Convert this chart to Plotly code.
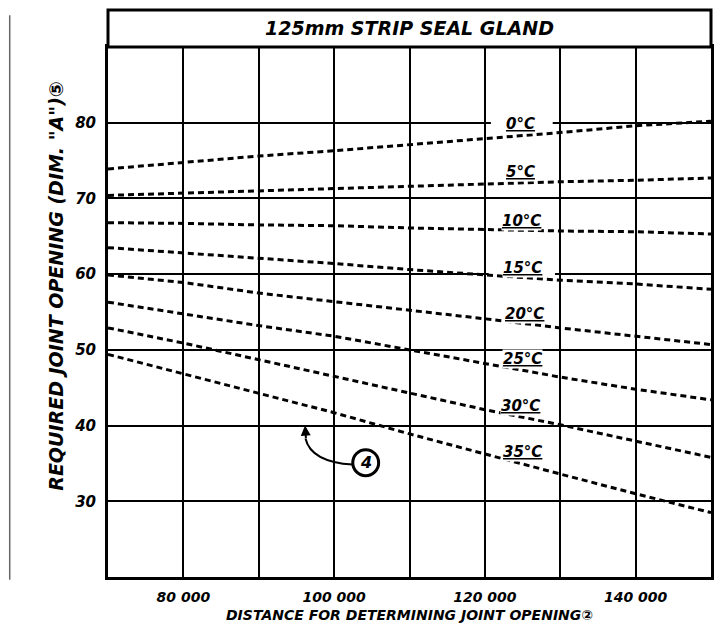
import plotly.graph_objects as go

# ---- data ----
x_dist = [70000, 80000, 90000, 100000, 110000, 120000, 130000, 140000, 150000]
temps = ["0°C", "5°C", "10°C", "15°C", "20°C", "25°C", "30°C", "35°C"]
t0 = [73.9, 74.8, 75.6, 76.3, 77.1, 77.9, 78.7, 79.6, 80.2]
t5 = [70.4, 70.7, 71.0, 71.3, 71.6, 71.9, 72.2, 72.4, 72.7]
t10 = [66.8, 66.7, 66.5, 66.4, 66.1, 65.9, 65.7, 65.6, 65.3]
t15 = [63.5, 62.8, 62.1, 61.4, 60.6, 59.9, 59.2, 58.7, 58.0]
t20 = [59.9, 58.9, 57.5, 56.4, 55.3, 54.1, 52.9, 51.8, 50.7]
t25 = [56.3, 54.7, 53.2, 51.8, 50.0, 48.2, 46.4, 44.8, 43.4]
t30 = [52.9, 50.9, 48.7, 46.5, 44.3, 42.1, 40.1, 38.0, 35.8]
t35 = [49.4, 46.8, 44.3, 41.7, 38.9, 36.2, 33.6, 31.0, 28.5]
series = [t0, t5, t10, t15, t20, t25, t30, t35]

label_x = [124700, 124700, 124800, 125000, 125300, 125000, 124700, 125000]
label_y = [79.8, 73.5, 67.0, 60.8, 54.8, 48.8, 42.6, 36.5]

x_tick_vals = [80000, 90000, 100000, 110000, 120000, 130000, 140000]
x_tick_text = ["80 000", "", "100 000", "", "120 000", "", "140 000"]
y_tick_vals = [30, 40, 50, 60, 70, 80]
y_tick_text = ["30", "40", "50", "60", "70", "80"]

title_text = "125mm STRIP SEAL GLAND"
x_title = "DISTANCE FOR DETERMINING JOINT OPENING②"
y_title = 'REQUIRED JOINT OPENING (DIM. "A")⑤'

FONT = "DejaVu Sans"


def bfont(size):
    return dict(family=FONT, size=size, color="black", weight="bold", style="italic")


fig = go.Figure()
for name, ys in zip(temps, series):
    fig.add_trace(go.Scatter(
        x=x_dist, y=ys, mode="lines", name=name,
        line=dict(color="black", width=3, dash="6px,4px"),
        showlegend=False, hoverinfo="skip",
    ))

annotations = []
for name, lx, ly in zip(temps, label_x, label_y):
    f = bfont(15)
    f["lineposition"] = "under"
    annotations.append(dict(x=lx, y=ly, xref="x", yref="y", text=name,
                            showarrow=False, font=f, bgcolor="white",
                            borderpad=0))

# title band text
annotations.append(dict(x=0.5, y=1.036, xref="paper", yref="paper",
                        text=title_text, showarrow=False, font=bfont(19),
                        xanchor="center", yanchor="middle"))
# axis titles
annotations.append(dict(x=-0.0875, y=0.55, xref="paper", yref="paper",
                        text=y_title, textangle=-90, showarrow=False,
                        font=bfont(19), xanchor="center", yanchor="middle"))
annotations.append(dict(x=0.5, y=-0.0915, xref="paper", yref="paper",
                        text=x_title, showarrow=False, font=bfont(14),
                        xanchor="center", yanchor="bottom"))
# callout 4
annotations.append(dict(x=104190, y=35.1, xref="x", yref="y", text="4",
                        showarrow=False, font=bfont(16)))
annotations.append(dict(x=96140, y=40.0, xref="x", yref="y", text="",
                        showarrow=True, ax=1, ay=14, arrowhead=2,
                        arrowsize=1, arrowwidth=2, arrowcolor="black",
                        standoff=0))

shapes = [
    # title band
    dict(type="rect", xref="paper", yref="paper", x0=0, x1=1, y0=1,
         y1=1 + 37 / 530, line=dict(color="black", width=3),
         fillcolor="white"),
    # gaps in grid lines behind labels
    dict(type="rect", xref="x", yref="y", x0=120800, x1=129000, y0=79.2,
         y1=80.6, line=dict(width=0), fillcolor="white", layer="between"),
    dict(type="rect", xref="x", yref="y", x0=120500, x1=129300, y0=59.4,
         y1=60.6, line=dict(width=0), fillcolor="white", layer="between"),
    # callout circle
    dict(type="circle", xref="x", yref="y", x0=104190 - 1716,
         x1=104190 + 1716, y0=35.1 - 1.72, y1=35.1 + 1.72,
         line=dict(color="black", width=3)),
    # callout curve
    dict(type="path", xref="x", yref="y",
         path="M 102475,34.85 Q 96930,35.2 96200,38.3",
         line=dict(color="black", width=2)),
    # scanned page edge at left
    dict(type="line", xref="paper", yref="paper", x0=-0.163, x1=-0.163,
         y0=-0.005, y1=1.06, line=dict(color="#666666", width=1.5)),
]

# page body has an 8px margin: the figure is sized so the plot lands
# at the same page pixels as the reference
fig.update_layout(
    width=714, height=618,
    margin=dict(l=100, r=8, t=39, b=49),
    paper_bgcolor="white", plot_bgcolor="white",
    annotations=annotations, shapes=shapes,
    xaxis=dict(range=[70000, 150000], tickvals=x_tick_vals,
               ticktext=x_tick_text, showgrid=True, gridcolor="black",
               gridwidth=2, showline=True, linecolor="black",
               linewidth=3, mirror=True, ticks="", tickfont=bfont(14),
               ticklabelstandoff=5, zeroline=False, fixedrange=True),
    yaxis=dict(range=[20, 90], tickvals=y_tick_vals, ticktext=y_tick_text,
               showgrid=True, gridcolor="black", gridwidth=2,
               showline=True, linecolor="black", linewidth=3, mirror=True,
               ticks="", tickfont=bfont(15), ticklabelstandoff=6,
               zeroline=False, fixedrange=True),
)

fig.write_html("out.html")
